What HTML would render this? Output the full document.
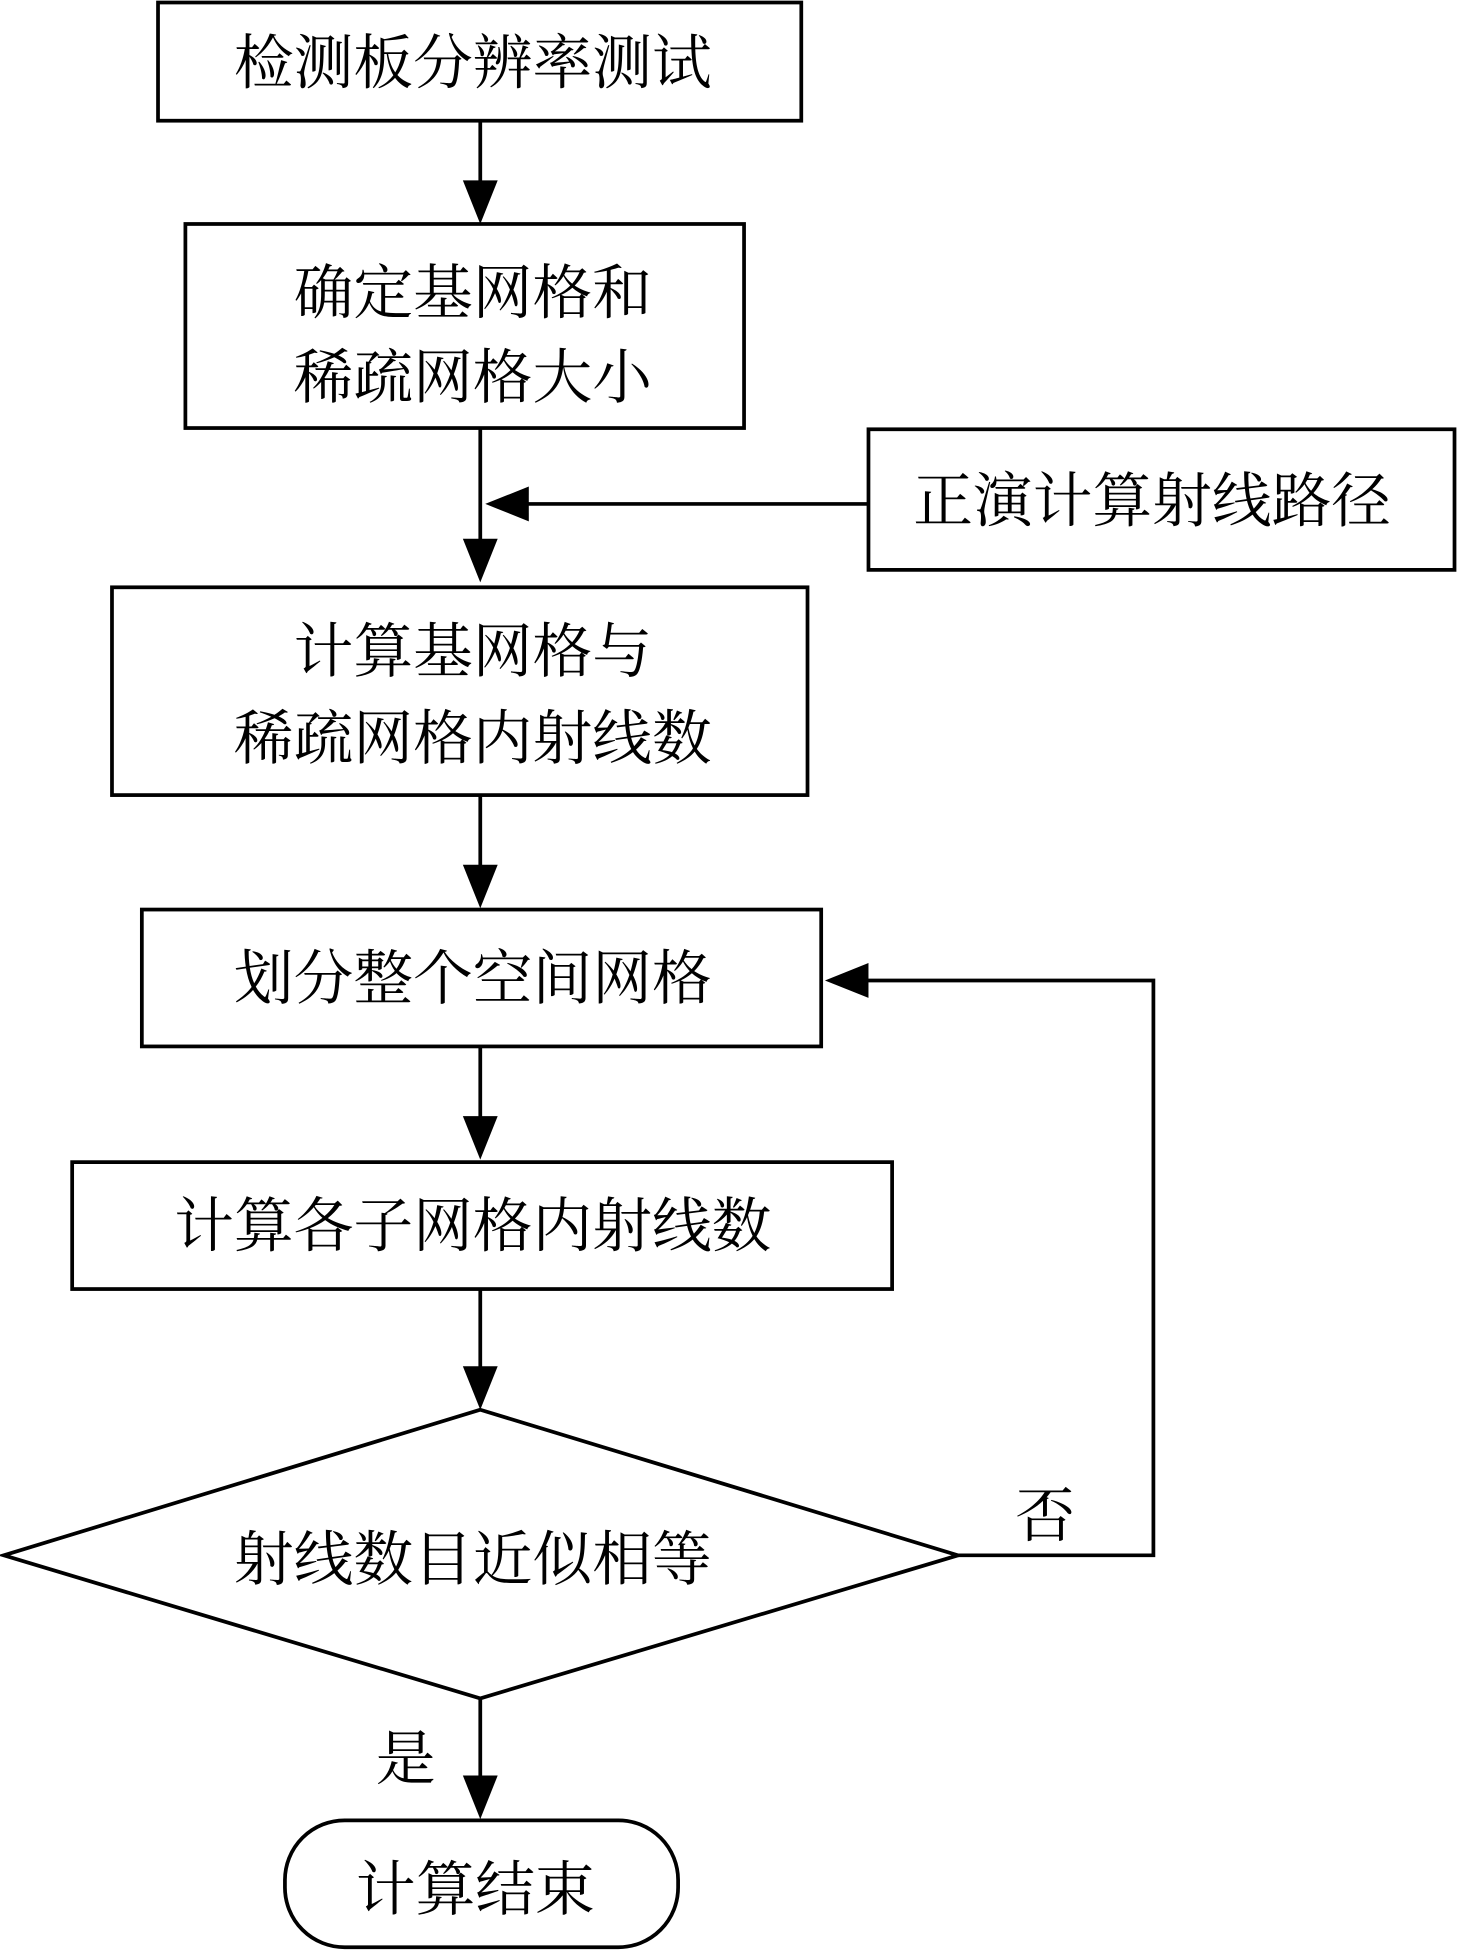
<!DOCTYPE html>
<html><head><meta charset="utf-8"><style>html,body{margin:0;padding:0;background:#fff}svg{display:block}</style></head>
<body>
<svg width="1457" height="1951" viewBox="0 0 1171 1568" xmlns="http://www.w3.org/2000/svg">
<defs><marker id="a" markerWidth="10" markerHeight="10" refX="10" refY="5" orient="auto" markerUnits="userSpaceOnUse" viewBox="0 0 10 10"><path d="M0,0 L10,5 L0,10 Z" fill="#000"/></marker></defs>
<g fill="none" stroke="#000" stroke-width="3">
<rect x="127" y="2" width="517" height="95"/>
<rect x="149" y="180" width="449" height="164"/>
<rect x="698" y="345" width="471" height="113"/>
<rect x="90" y="472" width="559" height="167"/>
<rect x="114" y="731" width="546" height="110"/>
<rect x="58" y="934" width="659" height="102"/>
<polygon points="386,1133 770,1250 386,1365 3,1250"/>
<rect x="229" y="1463" width="316" height="102" rx="48" ry="48"/>
<path d="M386,97 V150 M386,344 V438 M698,405 H420 M386,639 V700 M386,841 V902 M386,1036 V1103 M770,1250 H927 V788 H693 M386,1365 V1432"/>
</g>
<g fill="#000">
<path d="M372,145 L400,145 L386,180 Z"/>
<path d="M372,433 L400,433 L386,468 Z"/>
<path d="M425,391 L425,419 L390,405 Z"/>
<path d="M372,695 L400,695 L386,730 Z"/>
<path d="M372,897 L400,897 L386,932 Z"/>
<path d="M372,1098 L400,1098 L386,1133 Z"/>
<path d="M698,774 L698,802 L663,788 Z"/>
<path d="M372,1427 L400,1427 L386,1462 Z"/>
</g>
<g font-family="'Liberation Serif','Noto Serif CJK SC',serif" font-size="48" text-anchor="middle" fill="#000">
<text x="380" y="67">检测板分辨率测试</text>
<text x="380" y="252">确定基网格和</text>
<text x="380" y="320">稀疏网格大小</text>
<text x="926" y="419">正演计算射线路径</text>
<text x="380" y="540">计算基网格与</text>
<text x="380" y="610">稀疏网格内射线数</text>
<text x="380" y="803">划分整个空间网格</text>
<text x="380" y="1002">计算各子网格内射线数</text>
<text x="380" y="1270">射线数目近似相等</text>
<text x="840" y="1235">否</text>
<text x="326" y="1430">是</text>
<text x="382" y="1535">计算结束</text>
</g>
</svg>
</body></html>
